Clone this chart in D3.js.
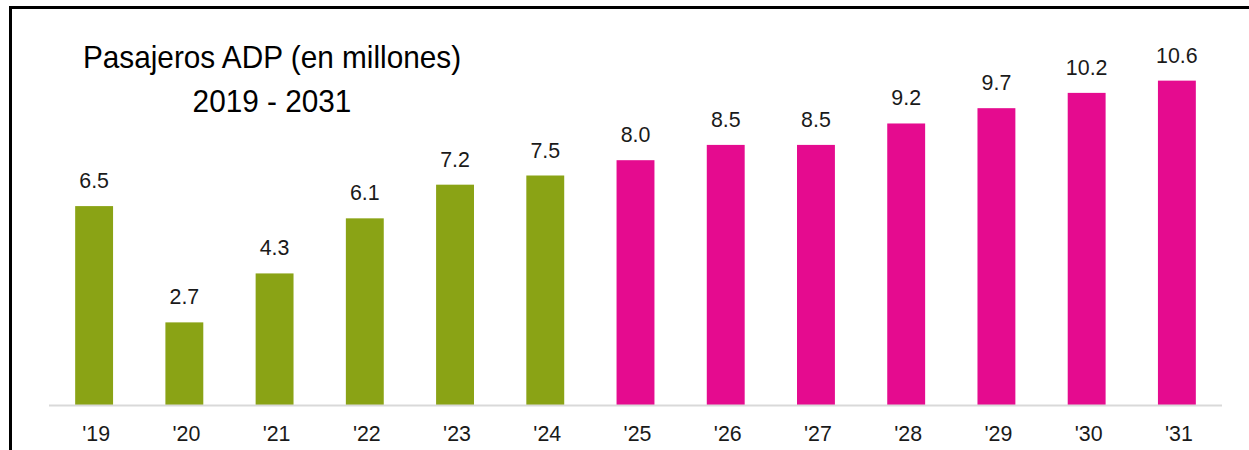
<body>
  <div class="chartArea"></div>
  <style>
    body { margin: 0; background: #fff; }
    .chart { display: block; font-family: "Liberation Sans Narrow", "Arial Narrow", "Liberation Sans", sans-serif; }
  </style>
  <script src="https://cdn.jsdelivr.net/npm/d3@7"></script>
  <script>
    // chart data
    const years = ["'19", "'20", "'21", "'22", "'23", "'24", "'25", "'26", "'27", "'28", "'29", "'30", "'31"];
    const passengers = [6.5, 2.7, 4.3, 6.1, 7.2, 7.5, 8.0, 8.5, 8.5, 9.2, 9.7, 10.2, 10.6];
    const valueLabels = ["6.5", "2.7", "4.3", "6.1", "7.2", "7.5", "8.0", "8.5", "8.5", "9.2", "9.7", "10.2", "10.6"];
    const actualCount = 6; // '19-'24 are actuals, rest projected
    const titleLines = ["Pasajeros ADP (en millones)", "2019 - 2031"];

    const width = 1249, height = 450;
    const baseY = 405;
    const squeeze = 0.93; // condensed look of the original font

    const svg = d3.select(".chartArea")
      .append("svg")
      .attr("class", "chart")
      .attr("width", width)
      .attr("height", height);

    // frame (top + left edges visible)
    svg.append("path")
      .attr("d", `M10.5,${height} V7.5 H${width}`)
      .attr("fill", "none")
      .attr("stroke", "#000")
      .attr("stroke-width", 3);

    const x = d3.scaleBand()
      .domain(years)
      .range([49, 1222])
      .paddingInner(0.58)
      .paddingOuter(0.29);

    const y = d3.scaleLinear()
      .domain([0, 10])
      .range([baseY, baseY - 306]);

    svg.selectAll("rect.bar")
      .data(passengers)
      .enter()
      .append("rect")
      .attr("class", "bar")
      .attr("x", (d, i) => x(years[i]))
      .attr("y", d => y(d))
      .attr("width", x.bandwidth())
      .attr("height", d => y(0) - y(d))
      .attr("fill", (d, i) => i < actualCount ? "#8aa315" : "#e50b8f");

    // baseline
    svg.append("line")
      .attr("x1", 49).attr("x2", 1222)
      .attr("y1", baseY + 0.5).attr("y2", baseY + 0.5)
      .attr("stroke", "#d9d9d9")
      .attr("stroke-width", 2);

    // value labels
    svg.selectAll("text.val")
      .data(passengers)
      .enter()
      .append("text")
      .attr("class", "val")
      .attr("transform", (d, i) =>
        `translate(${x(years[i]) + x.bandwidth() / 2},${y(d) - 18}) scale(${squeeze},1)`)
      .attr("text-anchor", "middle")
      .attr("font-size", 23)
      .attr("fill", "#1a1a1a")
      .text((d, i) => valueLabels[i]);

    // category axis
    const xAxis = d3.axisBottom(x).tickSize(0).tickPadding(0);
    const ax = svg.append("g")
      .attr("transform", `translate(0,${baseY})`)
      .call(xAxis);
    ax.select(".domain").remove();
    ax.selectAll("text")
      .attr("dy", null)
      .attr("y", 0)
      .attr("transform", `translate(2,36) scale(${squeeze},1)`)
      .attr("font-size", 23)
      .attr("font-family", "inherit")
      .attr("fill", "#1a1a1a");

    // title
    svg.selectAll("text.title")
      .data(titleLines)
      .enter()
      .append("text")
      .attr("class", "title")
      .attr("transform", (d, i) => `translate(272,${68 + i * 44}) scale(${squeeze},1)`)
      .attr("text-anchor", "middle")
      .attr("font-size", 32)
      .attr("fill", "#000")
      .text(d => d);
  </script>
</body>
